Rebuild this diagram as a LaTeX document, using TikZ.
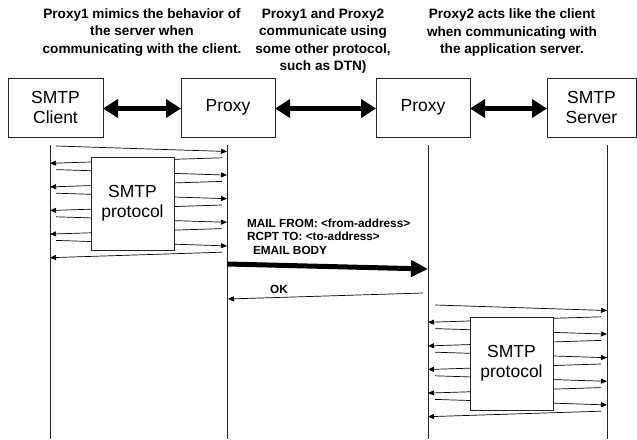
\documentclass[tikz,border=0pt]{standalone}
\usepackage{fontspec}
\setmainfont{Liberation Sans}
\usetikzlibrary{arrows.meta}
\begin{document}
\begin{tikzpicture}[x=1pt,y=-1pt,
  every node/.style={inner sep=0pt, outer sep=0pt},
  entity/.style={draw=black!85, line width=0.8pt, fill=white, minimum height=59pt,
    align=center, font=\fontsize{17.5}{20}\selectfont},
  protobox/.style={draw=black!85, line width=0.8pt, fill=white, minimum width=83pt,
    minimum height=93pt, align=center, font=\fontsize{17.5}{20}\selectfont},
  note/.style={align=center, font=\bfseries\fontsize{13.6}{17.5}\selectfont},
  msgtext/.style={anchor=west, font=\bfseries\fontsize{11.8}{13.5}\selectfont},
  link/.style={line width=4.5pt,
    {Triangle[length=15pt,width=18pt]}-{Triangle[length=15pt,width=18pt]}},
  lifeline/.style={line width=0.8pt, draw=black!85},
  msg/.style={line width=0.7pt, -{Triangle[length=6pt,width=5pt]}},
  bulk/.style={line width=5pt, -{Triangle[length=17pt,width=16pt]}}
]
\useasboundingbox (0,0) rectangle (637,439);

% explanatory notes
\node[note] (n1) at (142,32.5) {Proxy1 mimics the behavior of\\the server when\\communicating with the client.};
\node[note] (n2) at (323,41) {Proxy1 and Proxy2\\communicate using\\some other protocol,\\such as DTN)};
\node[note] (n3) at (512,32.5) {Proxy2 acts like the client\\when communicating with\\the application server.};

% participants
\node[entity, minimum width=95pt] (client) at (55.5,107.5) {SMTP\\Client};
\node[entity, minimum width=94pt] (proxyA) at (228,107.5) {Proxy};
\node[entity, minimum width=94pt] (proxyB) at (423,107.5) {Proxy};
\node[entity, minimum width=89pt] (server) at (591.5,107.5) {SMTP\\Server};

\draw[link] ([yshift=-1pt]client.east) -- ([yshift=-1pt]proxyA.west);
\draw[link] ([yshift=-1pt]proxyA.east) -- ([yshift=-1pt]proxyB.west);
\draw[link] ([yshift=-1pt]proxyB.east) -- ([yshift=-1pt]server.west);

% lifelines
\foreach \nm/\x in {c/50, p/227, q/428, s/607} {
  \coordinate (\nm top) at (\x,145);
  \coordinate (\nm bot) at (\x,439);
  \draw[lifeline] (\nm top) -- (\nm bot);
}

% SMTP exchange between client and proxy 1
\foreach \i in {0,...,9} {
  \pgfmathsetmacro\ya{146+\i*11.8}
  \pgfmathsetmacro\yb{\ya+5.5}
  \ifodd\i
    \coordinate (l\i s) at (222,\ya);
    \coordinate (l\i e) at (50,\yb);
  \else
    \coordinate (l\i s) at (56,\ya);
    \coordinate (l\i e) at (227,\yb);
  \fi
  \draw[msg] (l\i s) -- (l\i e);
}
\node[protobox] (protoA) at (132.5,203.5) {SMTP\\protocol};

% SMTP exchange between proxy 2 and server
\foreach \i in {0,...,9} {
  \pgfmathsetmacro\ya{305+\i*11.8}
  \pgfmathsetmacro\yb{\ya+5.5}
  \ifodd\i
    \coordinate (r\i s) at (601,\ya);
    \coordinate (r\i e) at (428,\yb);
  \else
    \coordinate (r\i s) at (435,\ya);
    \coordinate (r\i e) at (607,\yb);
  \fi
  \draw[msg] (r\i s) -- (r\i e);
}
\node[protobox] (protoB) at (511.5,363.5) {SMTP\\protocol};

% transfer between the two proxies
\coordinate (bulk s) at (227,264);
\coordinate (bulk e) at (428,269);
\draw[bulk] (bulk s) -- (bulk e);
\node[msgtext] (mf) at (247,223) {MAIL FROM: <from-address>};
\node[msgtext] (rt) at (247,236) {RCPT TO: <to-address>};
\node[msgtext] (eb) at (253,250) {EMAIL BODY};

\coordinate (ok s) at (423,293);
\coordinate (ok e) at (228,299);
\draw[msg] (ok s) -- (ok e);
\node[font=\bfseries\fontsize{11.8}{13.5}\selectfont] (ok) at (279,289) {OK};
\end{tikzpicture}
\end{document}
